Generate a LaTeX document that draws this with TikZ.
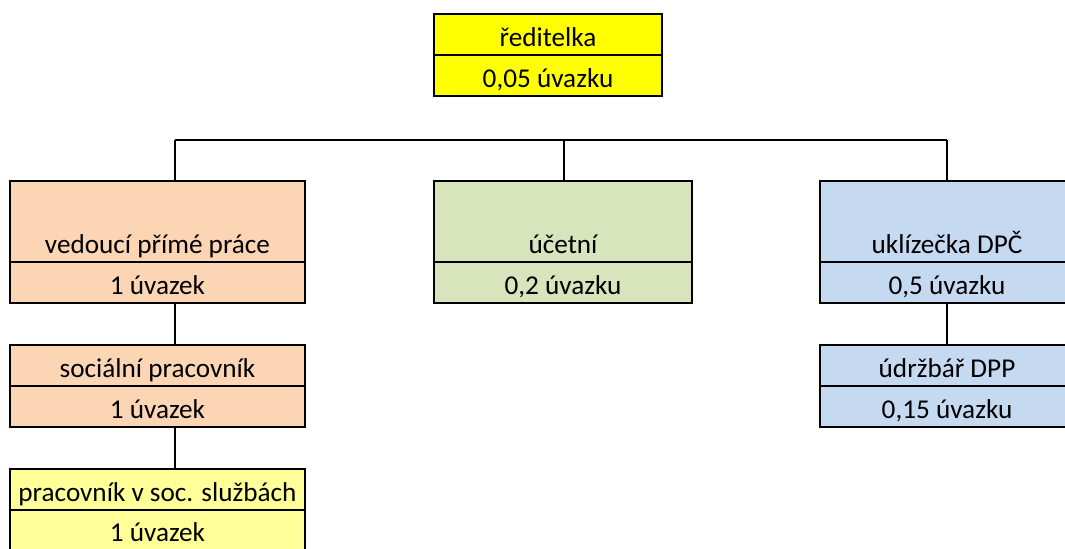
\documentclass[tikz,border=0pt]{standalone}
\usepackage{fontspec}
\setmainfont{Carlito}
\usepackage{tikz}
\definecolor{zluta}{RGB}{255,255,0}
\definecolor{svzluta}{RGB}{255,255,153}
\definecolor{oranz}{RGB}{252,213,180}
\definecolor{zelena}{RGB}{216,228,188}
\definecolor{modra}{RGB}{197,217,241}

\tikzset{
  cell/.style={draw, line width=1pt, inner sep=0pt, outer sep=0pt, anchor=north west,
    text height=16pt, text depth=4.5pt, font=\fontsize{13.6}{16}\selectfont},
  tall/.style={text height=36pt},
  spoj/.style={line width=1pt}
}

\begin{document}
\begin{tikzpicture}[x=0.5pt,y=-0.5pt]
                    \path[use as bounding box, clip] (0,0) rectangle (1065,548);

                    % vedeni
                    \node[cell, fill=zluta, minimum width=114pt] (red) at (434,14) {ředitelka};
                    \node[cell, fill=zluta, minimum width=114pt] (red1) at (red.south west) {0,05 úvazku};

                    % leva vetev
                    \node[cell, tall, fill=oranz, minimum width=147.5pt] (ved) at (10,181) {vedoucí přímé práce};
                    \node[cell, fill=oranz, minimum width=147.5pt] (ved1) at (ved.south west) {1 úvazek};
                    \node[cell, fill=oranz, minimum width=147.5pt] (soc) at (10,345) {sociální pracovník};
                    \node[cell, fill=oranz, minimum width=147.5pt] (soc1) at (soc.south west) {1 úvazek};
                    \node[cell, fill=svzluta, minimum width=147.5pt] (pss) at (10,469) {pracovník v soc. službách};
                    \node[cell, fill=svzluta, minimum width=147.5pt, text height=15.5pt, text depth=5pt] (pss1) at (pss.south west) {1 úvazek};

                    % stred
                    \node[cell, tall, fill=zelena, minimum width=129pt] (uce) at (434,181) {účetní};
                    \node[cell, fill=zelena, minimum width=129pt] (uce1) at (uce.south west) {0,2 úvazku};

                    % prava vetev
                    \node[cell, tall, fill=modra, minimum width=127pt] (ukl) at (820,181) {uklízečka DPČ};
                    \node[cell, fill=modra, minimum width=127pt] (ukl1) at (ukl.south west) {0,5 úvazku};
                    \node[cell, fill=modra, minimum width=127pt] (udr) at (820,345) {údržbář DPP};
                    \node[cell, fill=modra, minimum width=127pt] (udr1) at (udr.south west) {0,15 úvazku};

                    % spojnice
                    \coordinate (busL) at (175,140);
                    \coordinate (busM) at (564,140);
                    \coordinate (busR) at (947,140);
                    \draw[spoj] (busL) -- (busR);
                    \draw[spoj] (busL) -- (busL |- ved.north);
                    \draw[spoj] (busM) -- (busM |- uce.north);
                    \draw[spoj] (busR) -- (busR |- ukl.north);
                    \draw[spoj] (ved1.south -| busL) -- (soc.north -| busL);
                    \draw[spoj] (soc1.south -| busL) -- (pss.north -| busL);
                    \draw[spoj] (ukl1.south -| busR) -- (udr.north -| busR);
                \end{tikzpicture}
\end{document}
